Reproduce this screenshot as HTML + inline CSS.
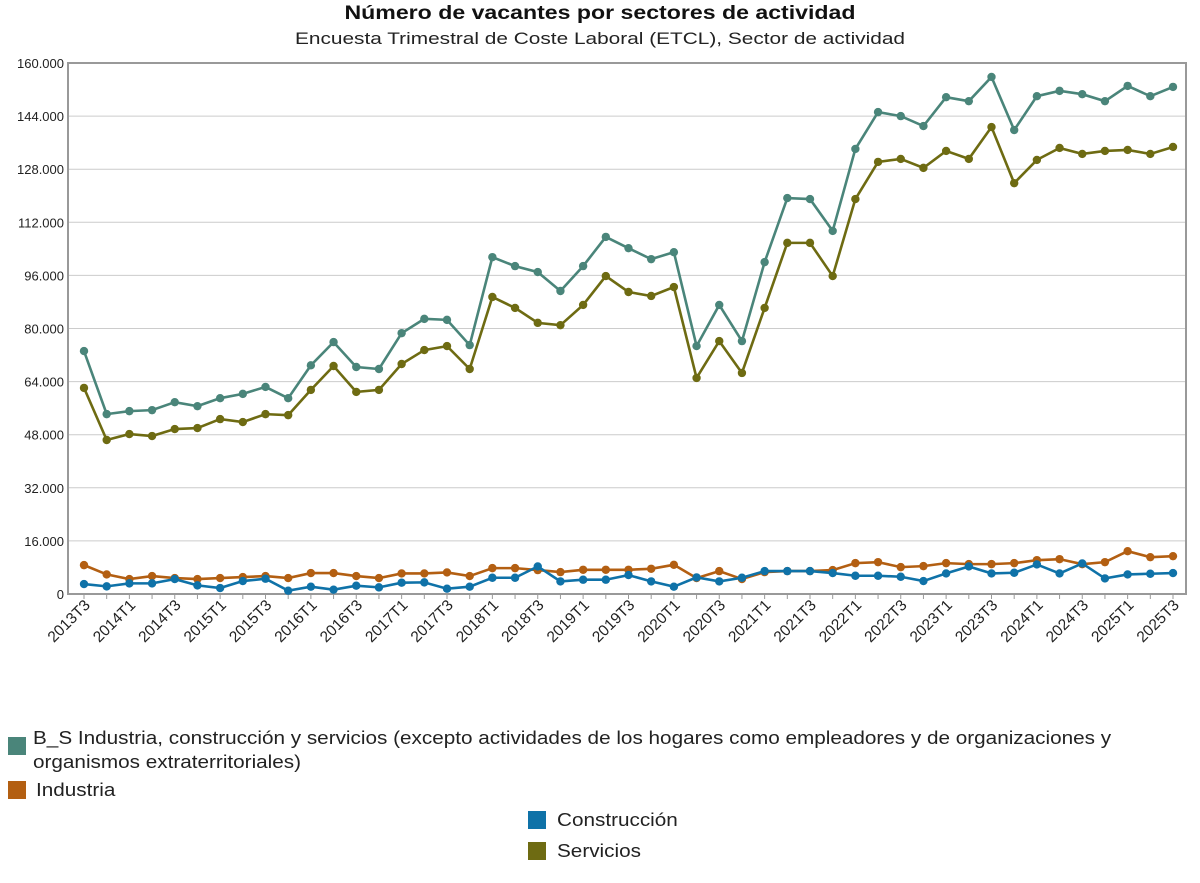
<!DOCTYPE html>
<html><head><meta charset="utf-8"><style>
body{margin:0;background:#fff;font-family:"Liberation Sans",Arial,sans-serif;}
.wrap{position:relative;width:1200px;height:883px;overflow:hidden}
.leg{position:absolute;font-size:18px;color:#222;line-height:24px;transform:scaleX(1.15);transform-origin:0 0;white-space:nowrap}
.sw{position:absolute;width:18px;height:18px}
</style></head><body>
<div class="wrap">
<svg id="chart" width="1200" height="883" style="position:absolute;left:0;top:0">
<text x="600" y="19" text-anchor="middle" font-size="19" font-weight="bold" fill="#111" textLength="511" lengthAdjust="spacingAndGlyphs">Número de vacantes por sectores de actividad</text>
<text x="600" y="44" text-anchor="middle" font-size="16.5" fill="#222" textLength="610" lengthAdjust="spacingAndGlyphs">Encuesta Trimestral de Coste Laboral (ETCL), Sector de actividad</text>
</svg>
<div class="sw" style="left:8px;top:737px;background:#4a857a"></div>
<div class="leg" style="left:33px;top:726px">B_S Industria, construcción y servicios (excepto actividades de los hogares como empleadores y de organizaciones y<br>organismos extraterritoriales)</div>
<div class="sw" style="left:8px;top:781px;background:#b35f12"></div>
<div class="leg" style="left:36px;top:778px">Industria</div>
<div class="sw" style="left:528px;top:811px;background:#0f72a8"></div>
<div class="leg" style="left:557px;top:808px">Construcción</div>
<div class="sw" style="left:528px;top:842px;background:#6e6b12"></div>
<div class="leg" style="left:557px;top:839px">Servicios</div>
</div>
<script>
const yTicks=[0,16000,32000,48000,64000,80000,96000,112000,128000,144000,160000];
const yTickLabels=["0","16.000","32.000","48.000","64.000","80.000","96.000","112.000","128.000","144.000","160.000"];
const total=[73200,54200,55100,55400,57800,56600,59000,60300,62400,59000,68900,75900,68400,67800,78600,82900,82600,75000,101500,98800,97000,91300,98800,107600,104200,100900,103000,74700,87100,76200,100000,119300,119000,109400,134100,145200,144000,141000,149700,148500,155800,139800,150000,151600,150600,148500,153100,150000,152800];
const servicios=[62100,46400,48200,47600,49700,50000,52700,51800,54200,53900,61500,68700,60900,61500,69300,73500,74700,67800,89500,86200,81700,81000,87100,95800,91000,89800,92500,65100,76200,66600,86200,105800,105800,95800,119000,130200,131100,128400,133500,131100,140700,123800,130800,134400,132600,133500,133800,132600,134700];
const industria=[8700,5900,4500,5400,4800,4500,4800,5100,5400,4800,6300,6300,5400,4800,6200,6200,6500,5400,7800,7800,7200,6600,7300,7300,7300,7600,8800,4800,6900,4500,6600,6900,6900,7200,9300,9600,8100,8400,9300,9000,9000,9300,10200,10500,9000,9600,12900,11100,11400];
const construccion=[3000,2300,3200,3200,4500,2600,1800,3900,4600,1000,2200,1300,2500,2000,3400,3500,1600,2200,4900,4900,8300,3800,4300,4300,5700,3800,2200,5000,3800,4900,6900,6900,6900,6300,5500,5500,5200,3900,6200,8300,6200,6400,8900,6200,9200,4700,5900,6100,6300];
const categories=[];for(let y=2013,q=3;categories.length<49;){categories.push(y+"T"+q);q++;if(q>4){q=1;y++;}}
const NS="http://www.w3.org/2000/svg",svg=document.getElementById("chart");
const L=68,R=1186,T=63,B=594;
const x=i=>84+i*(1173-84)/(categories.length-1);
const y=v=>B-(v/160000)*(B-T);
function mk(t,a){const e=document.createElementNS(NS,t);for(const k in a)e.setAttribute(k,a[k]);svg.appendChild(e);return e;}
yTicks.forEach((v,i)=>{
 const g=mk("line",{x1:L,x2:R,y1:y(v),y2:y(v),stroke:"#ccc","stroke-width":1});
 
 
 const t=mk("text",{x:L-4,y:y(v)+5,"text-anchor":"end","font-size":13,fill:"#222"});t.textContent=yTickLabels[i];
 
 
});
const fr=mk("rect",{x:L,y:T,width:R-L,height:B-T,fill:"none",stroke:"#999","stroke-width":2});


categories.forEach((c,i)=>{
 mk("line",{x1:x(i),x2:x(i),y1:B,y2:B+5,stroke:"#999"});
 if(i%2===0){const t=mk("text",{transform:`translate(${x(i)+7},${B+12}) rotate(-45)`,"text-anchor":"end","font-size":15.5,fill:"#222"});t.textContent=c;
 
 }
});
function series(data,col,name){
 const p=mk("polyline",{points:data.map((v,i)=>x(i)+","+y(v)).join(" "),fill:"none",stroke:col,"stroke-width":2.6});
 
 
 data.forEach((v,i)=>{const c=mk("circle",{cx:x(i),cy:y(v),r:4.2,fill:col});
 
 });
}
series(industria,"#b35f12","industria");
series(construccion,"#0f72a8","construccion");
series(servicios,"#6e6b12","servicios");
series(total,"#4a857a","total");
</script>
</body></html>
